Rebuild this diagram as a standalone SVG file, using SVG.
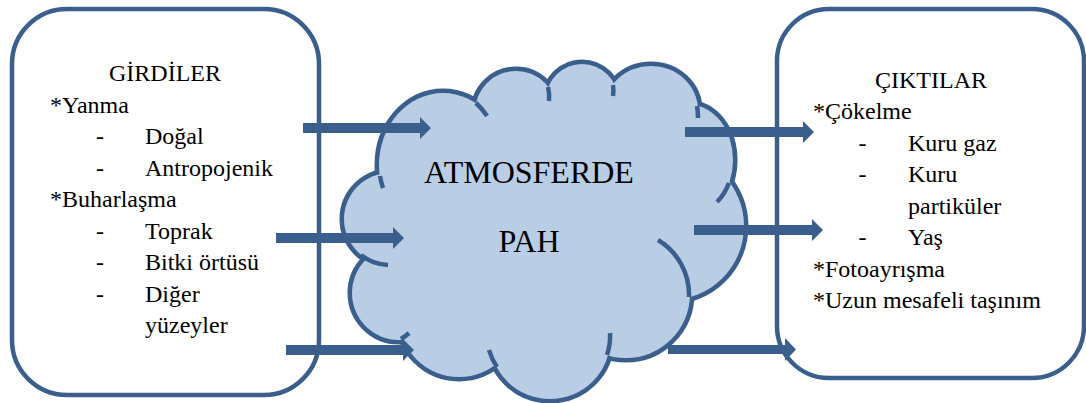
<svg xmlns="http://www.w3.org/2000/svg" xmlns:xlink="http://www.w3.org/1999/xlink" width="1086" height="403" viewBox="0 0 1086 403">
<style>
  .box { fill: #FFFFFF; stroke: #3B5F8D; stroke-width: 4.5; }
  .cloud-stroke { fill: #B9CDE5; stroke: #3B5F8D; stroke-width: 9; }
  .cloud-fill { fill: #B9CDE5; stroke: none; }
  .tail { fill: none; stroke: #3B5F8D; stroke-width: 4.5; }
  .arrow { fill: #3B5F8D; stroke: none; }
  .t { font-family: Liberation Serif, Times New Roman, DejaVu Serif, serif; font-size: 24px; fill: #000000; }
  .big { font-family: Liberation Serif, Times New Roman, DejaVu Serif, serif; font-size: 32px; fill: #000000; }
</style>
<defs>
  <g id="blobs">
    <ellipse cx="443" cy="165" rx="64" ry="72"/>
    <circle cx="390" cy="219" r="46"/>
    <circle cx="399" cy="293" r="47"/>
    <circle cx="459" cy="317" r="60"/>
    <ellipse cx="550" cy="340" rx="60" ry="59"/>
    <circle cx="626" cy="294" r="64"/>
    <circle cx="670" cy="226" r="74"/>
    <ellipse cx="690" cy="160" rx="43" ry="55"/>
    <ellipse cx="651" cy="110" rx="47" ry="44"/>
    <circle cx="582" cy="100" r="36"/>
    <circle cx="516" cy="112" r="41"/>
    <polygon points="440,160 516,112 582,100 651,110 690,160 670,226 626,294 550,340 459,317 399,293 390,219"/>
  </g>
</defs>

<g id="node-inputs">
  <rect class="box" x="12" y="9" width="307" height="386" rx="55" ry="55"/>
  <text class="t" x="165" y="81" text-anchor="middle">GİRDİLER</text>
  <text class="t" x="50" y="112.5">*Yanma</text>
  <text class="t" x="96" y="144">-</text>
  <text class="t" x="145" y="144">Doğal</text>
  <text class="t" x="96" y="175.5">-</text>
  <text class="t" x="145" y="175.5">Antropojenik</text>
  <text class="t" x="50" y="207">*Buharlaşma</text>
  <text class="t" x="96" y="238.5">-</text>
  <text class="t" x="145" y="238.5">Toprak</text>
  <text class="t" x="96" y="270">-</text>
  <text class="t" x="145" y="270">Bitki örtüsü</text>
  <text class="t" x="96" y="301.5">-</text>
  <text class="t" x="145" y="301.5">Diğer</text>
  <text class="t" x="145" y="333">yüzeyler</text>
</g>

<g id="node-outputs">
  <rect class="box" x="777" y="9" width="307" height="369" rx="52" ry="52"/>
  <text class="t" x="931" y="87.5" text-anchor="middle">ÇIKTILAR</text>
  <text class="t" x="813" y="119">*Çökelme</text>
  <text class="t" x="858.5" y="150.5">-</text>
  <text class="t" x="908" y="150.5">Kuru gaz</text>
  <text class="t" x="858.5" y="182">-</text>
  <text class="t" x="908" y="182">Kuru</text>
  <text class="t" x="908" y="213.5">partiküler</text>
  <text class="t" x="858.5" y="245">-</text>
  <text class="t" x="908" y="245">Yaş</text>
  <text class="t" x="813" y="276.5">*Fotoayrışma</text>
  <text class="t" x="813" y="308">*Uzun mesafeli taşınım</text>
</g>

<g id="node-cloud">
  <use xlink:href="#blobs" class="cloud-stroke"/>
  <use xlink:href="#blobs" class="cloud-fill"/>
  <path class="tail" d="M380,176 A64 72 0 0 0 383,188"/>
  <path class="tail" d="M476,103 A64 72 0 0 1 487,116"/>
  <path class="tail" d="M548,87 A41 41 0 0 1 549,101"/>
  <path class="tail" d="M613,85 A36 36 0 0 1 613,96"/>
  <path class="tail" d="M697,106 A43 55 0 0 1 698,118"/>
  <path class="tail" d="M729,183 A43 55 0 0 1 717,202"/>
  <path class="tail" d="M689,297 A64 64 0 0 0 658,240"/>
  <path class="tail" d="M607,355 A60 59 0 0 0 610,333"/>
  <path class="tail" d="M497,367 A60 59 0 0 1 489,350"/>
  <path class="tail" d="M401,339 A47 47 0 0 0 409,333"/>
  <path class="tail" d="M361,255 A46 46 0 0 0 388,265"/>
  <text class="big" x="529" y="183" text-anchor="middle">ATMOSFERDE</text>
  <text class="big" x="529" y="252" text-anchor="middle">PAH</text>
</g>

<g id="connectors">
  <path class="arrow" d="M303,123 H420 V117 L431,128 L420,139 V133 H303 Z"/>
  <path class="arrow" d="M276,233 H393 V227 L404,238 L393,249 V243 H276 Z"/>
  <path class="arrow" d="M286,345 H403 V339 L414,350 L403,361 V355 H286 Z"/>
  <path class="arrow" d="M685,127 H803 V121 L814,132 L803,143 V137 H685 Z"/>
  <path class="arrow" d="M694,225 H812 V219 L823,230 L812,241 V235 H694 Z"/>
  <path class="arrow" d="M668,345 H785 V338 L796,349.5 L785,361 V354 H668 Z"/>
</g>
</svg>
